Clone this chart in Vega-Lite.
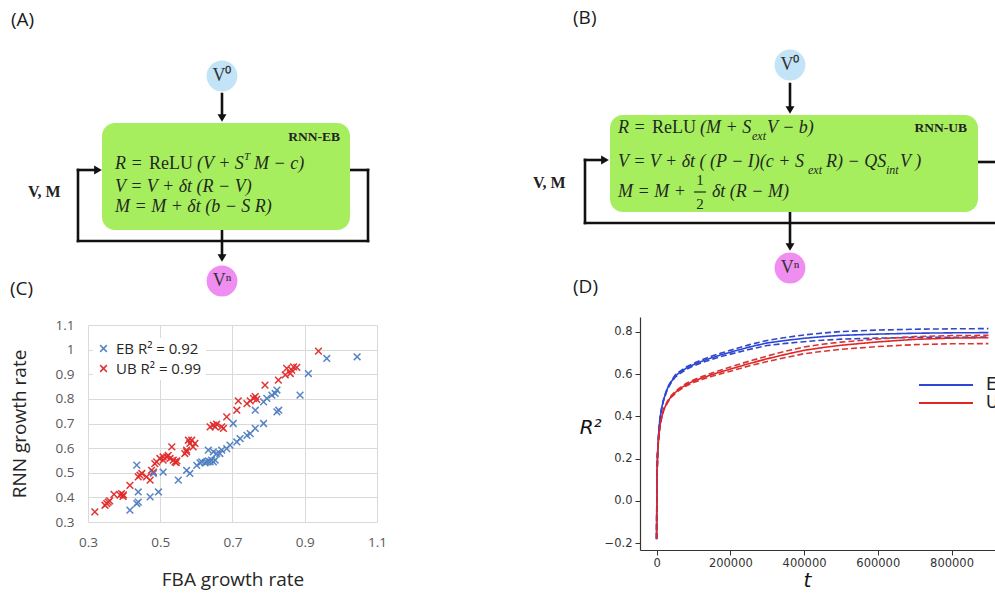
{
  "$schema": "https://vega.github.io/schema/vega-lite/v6.json",
  "background": "white",
  "padding": {"left": 10, "top": 0, "right": 0, "bottom": 0},
  "spacing": 0,
  "config": {"view": {"stroke": null}},
  "resolve": {"scale": {"color": "independent", "strokeDash": "independent"}, "legend": {"color": "independent", "strokeDash": "independent"}},
  "datasets": {
    "linesA": [
      {"x": 222, "y": 94, "x2": 222, "y2": 114},
      {"x": 222, "y": 229, "x2": 222, "y2": 255},
      {"x": 78, "y": 170, "x2": 95, "y2": 170},
      {"x": 78, "y": 170, "x2": 78, "y2": 241},
      {"x": 78, "y": 241, "x2": 368, "y2": 241},
      {"x": 368, "y": 241, "x2": 368, "y2": 170},
      {"x": 348, "y": 170, "x2": 368, "y2": 170}
    ],
    "headsA": [
      {"x": 222, "y": 118, "d": "down"},
      {"x": 222, "y": 258, "d": "down"},
      {"x": 98, "y": 170, "d": "right"}
    ],
    "boxA": [{"x": 102, "y": 123, "x2": 350, "y2": 230}],
    "nodesA": [
      {"x": 222, "y": 76, "n": "in", "label": "V⁰"},
      {"x": 222, "y": 281, "n": "out", "label": "Vⁿ"}
    ],
    "panelA": [{"x": 11, "y": 20, "label": "(A)"}, {"x": 10, "y": 289, "label": "(C)"}],
    "vmA": [{"x": 28, "y": 192, "label": "V, M"}],
    "tagA": [{"x": 340, "y": 137, "label": "RNN-EB"}],
    "eqItA": [
      {"x": 115, "y": 164, "label": "R ="},
      {"x": 197, "y": 164, "label": "(V + S"},
      {"x": 254, "y": 164, "label": "M  − c)"},
      {"x": 115, "y": 187, "label": "V = V + δt (R  − V)"},
      {"x": 115, "y": 207, "label": "M = M +  δt (b − S R)"}
    ],
    "eqUpA": [{"x": 149, "y": 164, "label": "ReLU"}],
    "supA": [{"x": 244, "y": 157, "label": "T"}],
    "linesB": [
      {"x": 790, "y": 84, "x2": 790, "y2": 106},
      {"x": 790, "y": 212, "x2": 790, "y2": 243},
      {"x": 585, "y": 160, "x2": 602, "y2": 160},
      {"x": 585, "y": 160, "x2": 585, "y2": 223},
      {"x": 585, "y": 223, "x2": 1000, "y2": 223},
      {"x": 975, "y": 162, "x2": 1000, "y2": 162}
    ],
    "headsB": [
      {"x": 790, "y": 110, "d": "down"},
      {"x": 790, "y": 247, "d": "down"},
      {"x": 605, "y": 160, "d": "right"}
    ],
    "boxB": [{"x": 610, "y": 115, "x2": 978, "y2": 212}],
    "nodesB": [
      {"x": 790, "y": 65, "n": "in", "label": "V⁰"},
      {"x": 790, "y": 268, "n": "out", "label": "Vⁿ"}
    ],
    "panelB": [{"x": 573, "y": 18, "label": "(B)"}, {"x": 573, "y": 287, "label": "(D)"}],
    "vmB": [{"x": 533, "y": 183, "label": "V, M"}],
    "tagB": [{"x": 967, "y": 128, "label": "RNN-UB"}],
    "eqItB": [
      {"x": 618, "y": 128, "label": "R ="},
      {"x": 700, "y": 128, "label": "(M + S"},
      {"x": 767, "y": 128, "label": "V  − b)"},
      {"x": 618, "y": 162, "label": "V = V + δt ( (P − I)(c + S"},
      {"x": 826, "y": 162, "label": "R)  − QS"},
      {"x": 900, "y": 162, "label": "V )"},
      {"x": 618, "y": 192, "label": "M = M +"},
      {"x": 712, "y": 192, "label": "δt (R − M)"}
    ],
    "eqUpB": [{"x": 652, "y": 128, "label": "ReLU"}],
    "fracB": [{"x": 700, "y": 180, "label": "1"}, {"x": 700, "y": 204, "label": "2"}],
    "fracBarB": [{"x": 694, "y": 192, "x2": 706, "y2": 192}],
    "subB": [
      {"x": 752, "y": 136, "label": "ext"},
      {"x": 808, "y": 170, "label": "ext"},
      {"x": 886, "y": 170, "label": "int"}
    ],
    "scatter": [
      {"fba": 0.319, "rnn": 0.341, "m": "UB"}, {"fba": 0.347, "rnn": 0.368, "m": "UB"},
      {"fba": 0.352, "rnn": 0.375, "m": "UB"}, {"fba": 0.356, "rnn": 0.381, "m": "UB"},
      {"fba": 0.36, "rnn": 0.386, "m": "UB"}, {"fba": 0.372, "rnn": 0.412, "m": "UB"},
      {"fba": 0.389, "rnn": 0.409, "m": "UB"}, {"fba": 0.393, "rnn": 0.415, "m": "UB"},
      {"fba": 0.397, "rnn": 0.404, "m": "UB"}, {"fba": 0.398, "rnn": 0.41, "m": "UB"},
      {"fba": 0.416, "rnn": 0.449, "m": "UB"}, {"fba": 0.439, "rnn": 0.483, "m": "UB"},
      {"fba": 0.444, "rnn": 0.49, "m": "UB"}, {"fba": 0.449, "rnn": 0.497, "m": "UB"},
      {"fba": 0.462, "rnn": 0.483, "m": "UB"}, {"fba": 0.472, "rnn": 0.47, "m": "UB"},
      {"fba": 0.476, "rnn": 0.51, "m": "UB"}, {"fba": 0.481, "rnn": 0.503, "m": "UB"},
      {"fba": 0.485, "rnn": 0.537, "m": "UB"}, {"fba": 0.49, "rnn": 0.544, "m": "UB"},
      {"fba": 0.499, "rnn": 0.558, "m": "UB"}, {"fba": 0.508, "rnn": 0.551, "m": "UB"},
      {"fba": 0.508, "rnn": 0.564, "m": "UB"}, {"fba": 0.518, "rnn": 0.564, "m": "UB"},
      {"fba": 0.522, "rnn": 0.571, "m": "UB"}, {"fba": 0.527, "rnn": 0.558, "m": "UB"},
      {"fba": 0.532, "rnn": 0.605, "m": "UB"}, {"fba": 0.536, "rnn": 0.551, "m": "UB"},
      {"fba": 0.541, "rnn": 0.544, "m": "UB"}, {"fba": 0.546, "rnn": 0.548, "m": "UB"},
      {"fba": 0.544, "rnn": 0.541, "m": "UB"}, {"fba": 0.568, "rnn": 0.578, "m": "UB"},
      {"fba": 0.573, "rnn": 0.585, "m": "UB"}, {"fba": 0.573, "rnn": 0.592, "m": "UB"},
      {"fba": 0.578, "rnn": 0.632, "m": "UB"}, {"fba": 0.587, "rnn": 0.632, "m": "UB"},
      {"fba": 0.582, "rnn": 0.619, "m": "UB"}, {"fba": 0.596, "rnn": 0.619, "m": "UB"},
      {"fba": 0.591, "rnn": 0.605, "m": "UB"}, {"fba": 0.638, "rnn": 0.686, "m": "UB"},
      {"fba": 0.647, "rnn": 0.693, "m": "UB"}, {"fba": 0.652, "rnn": 0.686, "m": "UB"},
      {"fba": 0.656, "rnn": 0.697, "m": "UB"}, {"fba": 0.67, "rnn": 0.686, "m": "UB"},
      {"fba": 0.675, "rnn": 0.68, "m": "UB"}, {"fba": 0.684, "rnn": 0.727, "m": "UB"},
      {"fba": 0.712, "rnn": 0.754, "m": "UB"}, {"fba": 0.716, "rnn": 0.792, "m": "UB"},
      {"fba": 0.74, "rnn": 0.781, "m": "UB"}, {"fba": 0.749, "rnn": 0.792, "m": "UB"},
      {"fba": 0.758, "rnn": 0.802, "m": "UB"}, {"fba": 0.763, "rnn": 0.809, "m": "UB"},
      {"fba": 0.767, "rnn": 0.798, "m": "UB"}, {"fba": 0.79, "rnn": 0.856, "m": "UB"},
      {"fba": 0.827, "rnn": 0.876, "m": "UB"}, {"fba": 0.846, "rnn": 0.897, "m": "UB"},
      {"fba": 0.85, "rnn": 0.924, "m": "UB"}, {"fba": 0.86, "rnn": 0.903, "m": "UB"},
      {"fba": 0.864, "rnn": 0.917, "m": "UB"}, {"fba": 0.869, "rnn": 0.93, "m": "UB"},
      {"fba": 0.878, "rnn": 0.928, "m": "UB"}, {"fba": 0.938, "rnn": 0.994, "m": "UB"},
      {"fba": 0.416, "rnn": 0.348, "m": "EB"}, {"fba": 0.435, "rnn": 0.375, "m": "EB"},
      {"fba": 0.439, "rnn": 0.381, "m": "EB"}, {"fba": 0.439, "rnn": 0.422, "m": "EB"},
      {"fba": 0.435, "rnn": 0.531, "m": "EB"}, {"fba": 0.472, "rnn": 0.402, "m": "EB"},
      {"fba": 0.495, "rnn": 0.422, "m": "EB"}, {"fba": 0.481, "rnn": 0.497, "m": "EB"},
      {"fba": 0.508, "rnn": 0.503, "m": "EB"}, {"fba": 0.55, "rnn": 0.47, "m": "EB"},
      {"fba": 0.573, "rnn": 0.51, "m": "EB"}, {"fba": 0.582, "rnn": 0.497, "m": "EB"},
      {"fba": 0.601, "rnn": 0.53, "m": "EB"}, {"fba": 0.61, "rnn": 0.54, "m": "EB"},
      {"fba": 0.615, "rnn": 0.544, "m": "EB"}, {"fba": 0.624, "rnn": 0.54, "m": "EB"},
      {"fba": 0.628, "rnn": 0.544, "m": "EB"}, {"fba": 0.633, "rnn": 0.548, "m": "EB"},
      {"fba": 0.638, "rnn": 0.544, "m": "EB"}, {"fba": 0.642, "rnn": 0.551, "m": "EB"},
      {"fba": 0.647, "rnn": 0.544, "m": "EB"}, {"fba": 0.652, "rnn": 0.551, "m": "EB"},
      {"fba": 0.633, "rnn": 0.592, "m": "EB"}, {"fba": 0.647, "rnn": 0.585, "m": "EB"},
      {"fba": 0.656, "rnn": 0.578, "m": "EB"}, {"fba": 0.665, "rnn": 0.578, "m": "EB"},
      {"fba": 0.67, "rnn": 0.592, "m": "EB"}, {"fba": 0.684, "rnn": 0.598, "m": "EB"},
      {"fba": 0.693, "rnn": 0.612, "m": "EB"}, {"fba": 0.702, "rnn": 0.7, "m": "EB"},
      {"fba": 0.712, "rnn": 0.625, "m": "EB"}, {"fba": 0.721, "rnn": 0.639, "m": "EB"},
      {"fba": 0.74, "rnn": 0.652, "m": "EB"}, {"fba": 0.749, "rnn": 0.659, "m": "EB"},
      {"fba": 0.763, "rnn": 0.68, "m": "EB"}, {"fba": 0.763, "rnn": 0.754, "m": "EB"},
      {"fba": 0.786, "rnn": 0.7, "m": "EB"}, {"fba": 0.786, "rnn": 0.788, "m": "EB"},
      {"fba": 0.795, "rnn": 0.802, "m": "EB"}, {"fba": 0.809, "rnn": 0.815, "m": "EB"},
      {"fba": 0.818, "rnn": 0.822, "m": "EB"}, {"fba": 0.823, "rnn": 0.836, "m": "EB"},
      {"fba": 0.823, "rnn": 0.747, "m": "EB"}, {"fba": 0.828, "rnn": 0.754, "m": "EB"},
      {"fba": 0.887, "rnn": 0.815, "m": "EB"}, {"fba": 0.91, "rnn": 0.903, "m": "EB"},
      {"fba": 0.961, "rnn": 0.964, "m": "EB"}, {"fba": 1.045, "rnn": 0.971, "m": "EB"}
    ],
    "curves": [
      {"t": 0, "EB": -0.18, "EBu": -0.178, "EBl": -0.182, "UB": -0.18, "UBu": -0.178, "UBl": -0.182},
      {"t": 1000, "EB": 0.1, "EBu": 0.102, "EBl": 0.098, "UB": 0.1, "UBu": 0.102, "UBl": 0.098},
      {"t": 2500, "EB": 0.22, "EBu": 0.222, "EBl": 0.218, "UB": 0.21, "UBu": 0.212, "UBl": 0.208},
      {"t": 5000, "EB": 0.3, "EBu": 0.302, "EBl": 0.298, "UB": 0.285, "UBu": 0.287, "UBl": 0.283},
      {"t": 7500, "EB": 0.36, "EBu": 0.362, "EBl": 0.358, "UB": 0.33, "UBu": 0.332, "UBl": 0.328},
      {"t": 10000, "EB": 0.4, "EBu": 0.402, "EBl": 0.398, "UB": 0.365, "UBu": 0.367, "UBl": 0.363},
      {"t": 15000, "EB": 0.45, "EBu": 0.453, "EBl": 0.447, "UB": 0.405, "UBu": 0.408, "UBl": 0.402},
      {"t": 20000, "EB": 0.485, "EBu": 0.488, "EBl": 0.482, "UB": 0.435, "UBu": 0.438, "UBl": 0.432},
      {"t": 30000, "EB": 0.535, "EBu": 0.539, "EBl": 0.531, "UB": 0.47, "UBu": 0.474, "UBl": 0.466},
      {"t": 40000, "EB": 0.565, "EBu": 0.569, "EBl": 0.561, "UB": 0.495, "UBu": 0.499, "UBl": 0.491},
      {"t": 50000, "EB": 0.59, "EBu": 0.595, "EBl": 0.585, "UB": 0.512, "UBu": 0.517, "UBl": 0.507},
      {"t": 60000, "EB": 0.605, "EBu": 0.61, "EBl": 0.6, "UB": 0.527, "UBu": 0.532, "UBl": 0.522},
      {"t": 80000, "EB": 0.628, "EBu": 0.634, "EBl": 0.622, "UB": 0.55, "UBu": 0.556, "UBl": 0.544},
      {"t": 100000, "EB": 0.645, "EBu": 0.651, "EBl": 0.639, "UB": 0.567, "UBu": 0.573, "UBl": 0.561},
      {"t": 125000, "EB": 0.663, "EBu": 0.67, "EBl": 0.656, "UB": 0.583, "UBu": 0.59, "UBl": 0.576},
      {"t": 150000, "EB": 0.678, "EBu": 0.686, "EBl": 0.67, "UB": 0.598, "UBu": 0.606, "UBl": 0.59},
      {"t": 175000, "EB": 0.692, "EBu": 0.7, "EBl": 0.684, "UB": 0.611, "UBu": 0.62, "UBl": 0.602},
      {"t": 200000, "EB": 0.704, "EBu": 0.713, "EBl": 0.695, "UB": 0.624, "UBu": 0.634, "UBl": 0.614},
      {"t": 250000, "EB": 0.728, "EBu": 0.739, "EBl": 0.717, "UB": 0.65, "UBu": 0.661, "UBl": 0.639},
      {"t": 300000, "EB": 0.748, "EBu": 0.76, "EBl": 0.736, "UB": 0.673, "UBu": 0.686, "UBl": 0.66},
      {"t": 350000, "EB": 0.76, "EBu": 0.774, "EBl": 0.746, "UB": 0.694, "UBu": 0.709, "UBl": 0.679},
      {"t": 400000, "EB": 0.77, "EBu": 0.786, "EBl": 0.754, "UB": 0.713, "UBu": 0.729, "UBl": 0.697},
      {"t": 450000, "EB": 0.778, "EBu": 0.795, "EBl": 0.761, "UB": 0.726, "UBu": 0.742, "UBl": 0.708},
      {"t": 500000, "EB": 0.784, "EBu": 0.802, "EBl": 0.766, "UB": 0.737, "UBu": 0.752, "UBl": 0.718},
      {"t": 600000, "EB": 0.79, "EBu": 0.809, "EBl": 0.771, "UB": 0.753, "UBu": 0.767, "UBl": 0.731},
      {"t": 700000, "EB": 0.794, "EBu": 0.813, "EBl": 0.774, "UB": 0.765, "UBu": 0.778, "UBl": 0.74},
      {"t": 800000, "EB": 0.796, "EBu": 0.815, "EBl": 0.775, "UB": 0.771, "UBu": 0.783, "UBl": 0.744},
      {"t": 900000, "EB": 0.797, "EBu": 0.816, "EBl": 0.776, "UB": 0.773, "UBu": 0.784, "UBl": 0.745}
    ]
  },
  "hconcat": [
    {
      "spacing": 0,
      "resolve": {"scale": {"color": "independent"}, "legend": {"color": "independent"}},
      "vconcat": [
        {
          "width": 445,
          "height": 318,
          "encoding": {
            "x": {"field": "x", "type": "quantitative", "scale": {"domain": [88, 533], "nice": false, "zero": false}, "axis": null},
            "y": {"field": "y", "type": "quantitative", "scale": {"domain": [0, 318], "nice": false, "zero": false, "reverse": true}, "axis": null}
          },
          "layer": [
            {"data": {"name": "linesA"}, "mark": {"type": "rule", "color": "#111111", "strokeWidth": 2.6, "strokeCap": "square"}, "encoding": {"x2": {"field": "x2"}, "y2": {"field": "y2"}}},
            {"data": {"name": "boxA"}, "mark": {"type": "rect", "color": "#a7ee5e", "cornerRadius": 13}, "encoding": {"x2": {"field": "x2"}, "y2": {"field": "y2"}}},
            {"data": {"name": "headsA"}, "transform": [{"filter": "datum.d == 'down'"}], "mark": {"type": "point", "shape": "triangle-down", "filled": true, "color": "#111111", "size": 80, "opacity": 1}},
            {"data": {"name": "headsA"}, "transform": [{"filter": "datum.d == 'right'"}], "mark": {"type": "point", "shape": "triangle-right", "filled": true, "color": "#111111", "size": 80, "opacity": 1}},
            {"data": {"name": "nodesA"}, "transform": [{"filter": "datum.n == 'in'"}], "mark": {"type": "point", "shape": "circle", "filled": true, "color": "#c3e3f7", "size": 950, "opacity": 1}},
            {"data": {"name": "nodesA"}, "transform": [{"filter": "datum.n == 'out'"}], "mark": {"type": "point", "shape": "circle", "filled": true, "color": "#ef8ef0", "size": 950, "opacity": 1}},
            {"data": {"name": "nodesA"}, "mark": {"type": "text", "font": "Liberation Serif", "fontSize": 18, "color": "#333333", "align": "center", "baseline": "middle"}, "encoding": {"text": {"field": "label"}}},
            {"data": {"name": "panelA"}, "mark": {"type": "text", "font": "Open Sans", "fontSize": 19, "color": "#1a1a1a", "align": "left", "baseline": "middle"}, "encoding": {"text": {"field": "label"}}},
            {"data": {"name": "vmA"}, "mark": {"type": "text", "font": "Liberation Serif", "fontSize": 16, "fontWeight": "bold", "color": "#222222", "align": "left", "baseline": "middle"}, "encoding": {"text": {"field": "label"}}},
            {"data": {"name": "tagA"}, "mark": {"type": "text", "font": "Liberation Serif", "fontSize": 13.5, "fontWeight": "bold", "color": "#222222", "align": "right", "baseline": "middle"}, "encoding": {"text": {"field": "label"}}},
            {"data": {"name": "eqItA"}, "mark": {"type": "text", "font": "Liberation Serif", "fontSize": 18, "fontStyle": "italic", "color": "#1f2a1f", "align": "left", "baseline": "middle"}, "encoding": {"text": {"field": "label"}}},
            {"data": {"name": "eqUpA"}, "mark": {"type": "text", "font": "Liberation Serif", "fontSize": 18, "color": "#1f2a1f", "align": "left", "baseline": "middle"}, "encoding": {"text": {"field": "label"}}},
            {"data": {"name": "supA"}, "mark": {"type": "text", "font": "Liberation Serif", "fontSize": 11, "fontStyle": "italic", "color": "#1f2a1f", "align": "left", "baseline": "middle"}, "encoding": {"text": {"field": "label"}}}
          ]
        },
        {
          "width": 289,
          "height": 197,
          "data": {"name": "scatter"},
          "mark": {"type": "point", "shape": "M-1,-1L1,1M-1,1L1,-1", "filled": false, "size": 45, "strokeWidth": 1.5, "opacity": 0.95},
          "encoding": {
            "x": {"field": "fba", "type": "quantitative", "scale": {"domain": [0.3, 1.1], "nice": false, "zero": false},
              "axis": {"title": "FBA growth rate", "values": [0.3, 0.5, 0.7, 0.9, 1.1], "format": ".1f", "grid": true, "gridColor": "#d9d9d9", "domain": false, "ticks": false, "tickSize": 0, "labelFlush": false, "labelOverlap": false, "labelFont": "Open Sans", "labelFontSize": 13.5, "labelColor": "#595959", "labelPadding": 13, "titleFont": "Open Sans", "titleFontSize": 19, "titleFontWeight": "normal", "titleColor": "#262626", "titlePadding": 22}},
            "y": {"field": "rnn", "type": "quantitative", "scale": {"domain": [0.3, 1.1], "nice": false, "zero": false},
              "axis": {"title": "RNN growth rate", "values": [0.3, 0.4, 0.5, 0.6, 0.7, 0.8, 0.9, 1, 1.1], "format": ".2~f", "grid": true, "gridColor": "#d9d9d9", "domain": false, "ticks": false, "tickSize": 0, "labelFlush": false, "labelOverlap": false, "labelFont": "Open Sans", "labelFontSize": 13.5, "labelColor": "#595959", "labelPadding": 14, "titleFont": "Open Sans", "titleFontSize": 19, "titleFontWeight": "normal", "titleColor": "#262626", "titlePadding": 26}},
            "color": {"field": "m", "type": "nominal", "scale": {"domain": ["EB", "UB"], "range": ["#4f7fc2", "#e02a2a"]},
              "legend": {"orient": "none", "legendX": 5, "legendY": 13, "title": null, "fillColor": "white", "padding": 3, "symbolType": "M-1,-1L1,1M-1,1L1,-1", "symbolSize": 45, "symbolStrokeWidth": 1.5, "labelExpr": "datum.label == 'EB' ? 'EB  R² = 0.92' : 'UB R² = 0.99'", "labelFont": "Open Sans", "labelFontSize": 15, "labelColor": "#262626", "labelOffset": 5, "rowPadding": 4}}
          }
        }
      ]
    },
    {
      "spacing": 0,
      "resolve": {"scale": {"color": "independent", "strokeDash": "independent"}, "legend": {"color": "independent", "strokeDash": "independent"}},
      "vconcat": [
        {
          "width": 360,
          "height": 317,
          "encoding": {
            "x": {"field": "x", "type": "quantitative", "scale": {"domain": [640, 1000], "nice": false, "zero": false}, "axis": null},
            "y": {"field": "y", "type": "quantitative", "scale": {"domain": [0, 317], "nice": false, "zero": false, "reverse": true}, "axis": null}
          },
          "layer": [
            {"data": {"name": "linesB"}, "mark": {"type": "rule", "color": "#111111", "strokeWidth": 2.6, "strokeCap": "square"}, "encoding": {"x2": {"field": "x2"}, "y2": {"field": "y2"}}},
            {"data": {"name": "boxB"}, "mark": {"type": "rect", "color": "#a7ee5e", "cornerRadius": 13}, "encoding": {"x2": {"field": "x2"}, "y2": {"field": "y2"}}},
            {"data": {"name": "headsB"}, "transform": [{"filter": "datum.d == 'down'"}], "mark": {"type": "point", "shape": "triangle-down", "filled": true, "color": "#111111", "size": 80, "opacity": 1}},
            {"data": {"name": "headsB"}, "transform": [{"filter": "datum.d == 'right'"}], "mark": {"type": "point", "shape": "triangle-right", "filled": true, "color": "#111111", "size": 80, "opacity": 1}},
            {"data": {"name": "nodesB"}, "transform": [{"filter": "datum.n == 'in'"}], "mark": {"type": "point", "shape": "circle", "filled": true, "color": "#c3e3f7", "size": 950, "opacity": 1}},
            {"data": {"name": "nodesB"}, "transform": [{"filter": "datum.n == 'out'"}], "mark": {"type": "point", "shape": "circle", "filled": true, "color": "#ef8ef0", "size": 950, "opacity": 1}},
            {"data": {"name": "nodesB"}, "mark": {"type": "text", "font": "Liberation Serif", "fontSize": 18, "color": "#333333", "align": "center", "baseline": "middle"}, "encoding": {"text": {"field": "label"}}},
            {"data": {"name": "panelB"}, "mark": {"type": "text", "font": "Open Sans", "fontSize": 19, "color": "#1a1a1a", "align": "left", "baseline": "middle"}, "encoding": {"text": {"field": "label"}}},
            {"data": {"name": "vmB"}, "mark": {"type": "text", "font": "Liberation Serif", "fontSize": 16, "fontWeight": "bold", "color": "#222222", "align": "left", "baseline": "middle"}, "encoding": {"text": {"field": "label"}}},
            {"data": {"name": "tagB"}, "mark": {"type": "text", "font": "Liberation Serif", "fontSize": 13.5, "fontWeight": "bold", "color": "#222222", "align": "right", "baseline": "middle"}, "encoding": {"text": {"field": "label"}}},
            {"data": {"name": "eqItB"}, "mark": {"type": "text", "font": "Liberation Serif", "fontSize": 18, "fontStyle": "italic", "color": "#1f2a1f", "align": "left", "baseline": "middle"}, "encoding": {"text": {"field": "label"}}},
            {"data": {"name": "eqUpB"}, "mark": {"type": "text", "font": "Liberation Serif", "fontSize": 18, "color": "#1f2a1f", "align": "left", "baseline": "middle"}, "encoding": {"text": {"field": "label"}}},
            {"data": {"name": "fracB"}, "mark": {"type": "text", "font": "Liberation Serif", "fontSize": 15, "color": "#1f2a1f", "align": "center", "baseline": "middle"}, "encoding": {"text": {"field": "label"}}},
            {"data": {"name": "fracBarB"}, "mark": {"type": "rule", "color": "#1f2a1f", "strokeWidth": 1.2}, "encoding": {"x2": {"field": "x2"}, "y2": {"field": "y2"}}},
            {"data": {"name": "subB"}, "mark": {"type": "text", "font": "Liberation Serif", "fontSize": 12, "fontStyle": "italic", "color": "#1f2a1f", "align": "left", "baseline": "middle"}, "encoding": {"text": {"field": "label"}}}
          ]
        },
        {
          "width": 365,
          "height": 233,
          "data": {"name": "curves"},
          "transform": [{"fold": ["EBu", "EBl", "UBu", "UBl", "EB", "UB"], "as": ["series", "v"]}],
          "mark": {"type": "line", "strokeWidth": 1.6, "clip": true},
          "encoding": {
            "x": {"field": "t", "type": "quantitative", "scale": {"domain": [-45000, 945000], "nice": false, "zero": false},
              "axis": {"title": "t", "values": [0, 200000, 400000, 600000, 800000], "format": "d", "grid": false, "domainColor": "#333333", "domainWidth": 1.2, "tickColor": "#333333", "tickSize": 5, "labelFlush": false, "labelOverlap": false, "labelFont": "DejaVu Sans", "labelFontSize": 11.5, "labelColor": "#333333", "labelPadding": 2, "titleFont": "DejaVu Sans", "titleFontStyle": "italic", "titleFontWeight": "normal", "titleFontSize": 20, "titleColor": "#111111", "titlePadding": 2, "titleX": 167}},
            "y": {"field": "v", "type": "quantitative", "scale": {"domain": [-0.233, 0.871], "nice": false, "zero": false},
              "axis": {"title": "R²", "values": [-0.2, 0, 0.2, 0.4, 0.6, 0.8], "format": ".1f", "grid": false, "domainColor": "#333333", "domainWidth": 1.2, "tickColor": "#333333", "tickSize": 5, "labelFlush": false, "labelOverlap": false, "labelFont": "DejaVu Sans", "labelFontSize": 11.5, "labelColor": "#333333", "labelPadding": 3, "titleFont": "DejaVu Sans", "titleFontStyle": "italic", "titleFontWeight": "normal", "titleFontSize": 20, "titleColor": "#111111", "titleAngle": 0, "titleAlign": "right", "titleBaseline": "middle", "titlePadding": 3, "titleY": 110}},
            "color": {"field": "series", "type": "nominal", "scale": {"domain": ["EB", "EBu", "EBl", "UB", "UBu", "UBl"], "range": ["#2b46d8", "#3346c8", "#3346c8", "#e02626", "#d83434", "#d83434"]},
              "legend": {"values": ["EB", "UB"], "orient": "none", "legendX": 278, "legendY": 58, "title": null, "symbolType": "M-3,0L3,0", "symbolSize": 324, "symbolStrokeWidth": 2, "symbolOffset": 18, "labelOffset": 30, "labelFont": "DejaVu Sans", "labelFontSize": 17, "labelColor": "#222222", "rowPadding": 0, "padding": 0}},
            "strokeDash": {"field": "series", "type": "nominal", "scale": {"domain": ["EB", "EBu", "EBl", "UB", "UBu", "UBl"], "range": [[1, 0], [6, 3], [6, 3], [1, 0], [6, 3], [6, 3]]}, "legend": null}
          }
        }
      ]
    }
  ]
}
